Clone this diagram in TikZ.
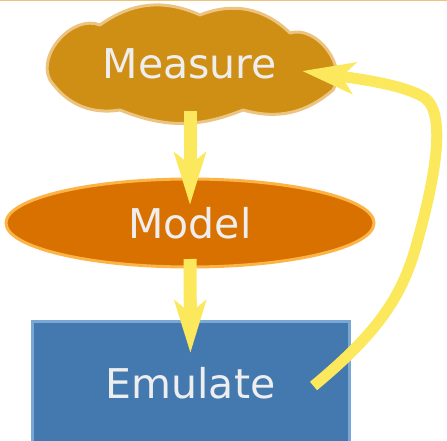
\documentclass[tikz,border=0pt]{standalone}
\usepackage{fontspec}
\setmainfont{DejaVu Sans}
\usetikzlibrary{arrows.meta,shapes.geometric,calc}

\definecolor{measfill}{RGB}{207,142,20}
\definecolor{measline}{RGB}{236,196,128}
\definecolor{modelfill}{RGB}{217,113,0}
\definecolor{modelline}{RGB}{253,180,70}
\definecolor{emufill}{RGB}{68,121,176}
\definecolor{emuline}{RGB}{122,168,213}
\definecolor{flowyellow}{RGB}{252,232,92}
\definecolor{txtgrey}{RGB}{238,238,238}

\begin{document}
\begin{tikzpicture}
[x=1pt, y=-1pt, line width=3pt, >={Stealth[length=52pt,width=31pt,inset=12pt]},
boxtext/.style={text=txtgrey, font=\fontsize{41}{49}\selectfont, inner sep=0pt},
puffs/.style={draw=measline, fill=measfill, line join=round},
model/.style={ellipse, draw=modelline, fill=modelfill, minimum width=368pt, minimum height=88pt, boxtext},
emulate/.style={rectangle, draw=emuline, fill=emufill, minimum width=317pt, minimum height=124pt, boxtext},
flow/.style={draw=flowyellow, line width=13pt, ->},
backflow/.style={draw=flowyellow, line width=11pt, ->}]

\clip (0,0) rectangle (447,441);
\fill[white] (0,0) rectangle (447,441);
\draw[measline, line width=1.5pt] (0,0.75) -- (447,0.75);

% cloud drawn puff by puff
\draw[puffs] (50,80) to[bend left=70] (100,25) to[bend left=30] (200,15)
  to[bend left=33] (290,33) to[bend left=70] (333,90) to[bend left=28] (243,110)
  to[bend left=22] (120,110) to[bend left=32] (50,80) -- cycle;
\node[boxtext] (meas) at (190,64) {Measure};
\node[model] (mod) at (190,223) {Model};
\node[emulate] (emu) at (190.5,383) {Emulate};

\draw[flow, shorten <=47pt, shorten >=18pt] (meas.center) -- (mod.center);
\draw[flow, shorten <=36pt, shorten >=30pt] (mod.center) -- (emu.center);

\coordinate (loopstart) at ($(emu.center)+(123,3)$);
\coordinate (looptip) at ($(meas.center)+(112,7)$);
\draw[backflow] (loopstart) .. controls (375,335) and (400,300) .. (415,250)
  .. controls (435,180) and (447,115) .. (425,98)
  .. controls (405,85) and (360,79) .. (looptip);

\end{tikzpicture}
\end{document}
